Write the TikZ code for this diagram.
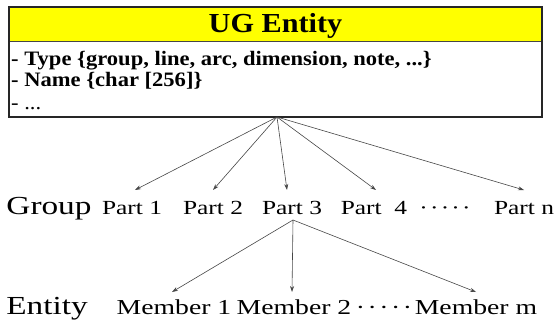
\documentclass[tikz,border=0pt]{standalone}
\usepackage{fontspec}
\setmainfont{Liberation Serif}
\newfontfamily\boxfont[FakeStretch=1.1]{Liberation Serif}
\newfontfamily\titlefont[FakeStretch=1.1]{Liberation Serif}
\newfontfamily\bigfont[FakeStretch=1.28]{Liberation Serif}
\newfontfamily\partfont[FakeStretch=1.27]{Liberation Serif}
\newfontfamily\memfont[FakeStretch=1.3]{Liberation Serif}
\usetikzlibrary{arrows.meta}
\definecolor{ugyellow}{RGB}{255,255,0}
\definecolor{linegray}{RGB}{70,70,70}
\tikzset{
  conn/.style={draw=linegray, line width=0.6pt, -{Stealth[length=6pt,width=4pt]}},
  boxtext/.style={anchor=base west, inner sep=0pt, font=\boxfont\fontsize{20.5}{24}\selectfont},
  boldtext/.style={boxtext, font=\boxfont\bfseries\fontsize{20.5}{24}\selectfont},
  big/.style={anchor=base, inner sep=0pt, font=\bigfont\fontsize{26}{30}\selectfont},
  part/.style={anchor=base, inner sep=0pt, font=\partfont\fontsize{20}{24}\selectfont},
  member/.style={anchor=base, inner sep=0pt, font=\memfont\fontsize{21.3}{25}\selectfont},
}
\begin{document}
\begin{tikzpicture}[x=1pt,y=-1pt]
\useasboundingbox (0,0) rectangle (556,321);
% box
\fill[ugyellow] (9,7) rectangle (542,41);
\draw[linegray, line width=0.5pt] (9,41) -- (542,41);
\draw[black!85, line width=1.3pt] (9,7) rectangle (542,117);
\node[anchor=base, inner sep=0pt, font=\titlefont\bfseries\fontsize{27.5}{30}\selectfont] (title) at (275.5,33) {UG Entity};
\node[boldtext] (l1) at (11,65) {- Type \{group, line, arc, dimension, note, ...\}};
\node[boldtext] (l2) at (11,86) {- Name \{char [256]\}};
\node[boxtext] (l3) at (11,109) {- ...};
\coordinate (src) at (277,117);
% group row
\node[big] (group) at (49,214) {Group};
\node[part] (p1) at (132,214) {Part 1};
\node[part] (p2) at (213,214) {Part 2};
\node[part] (p3) at (292,214) {Part 3};
\node[part] (p4) at (374,214) {Part\ \ 4};
\node[part] (pd) at (445,214) {·\kern2.2pt·\kern2.2pt·\kern2.2pt·\kern2.2pt·};
\node[part] (pn) at (524,214) {Part n};
\coordinate (t1) at (135,190);
\coordinate (t2) at (213,190);
\coordinate (t3) at (287,190);
\coordinate (t4) at (376,190);
\coordinate (tn) at (524,190);
\draw[conn] (src) -- (t1);
\draw[conn] (src) -- (t2);
\draw[conn] (src) -- (t3);
\draw[conn] (src) -- (t4);
\draw[conn] (src) -- (tn);
% entity row
\coordinate (src2) at (293,220);
\node[big] (entity) at (47,314) {Entity};
\node[member] (m1) at (174,314) {Member 1};
\node[member] (m2) at (294,314) {Member 2};
\node[member] (md) at (384,314) {·\kern2.5pt·\kern2.5pt·\kern2.5pt·\kern2.5pt·};
\node[member] (mm) at (476,314) {Member m};
\coordinate (u1) at (172,292);
\coordinate (u2) at (292,292);
\coordinate (um) at (476,292);
\draw[conn] (src2) -- (u1);
\draw[conn] (src2) -- (u2);
\draw[conn] (src2) -- (um);
\end{tikzpicture}
\end{document}
